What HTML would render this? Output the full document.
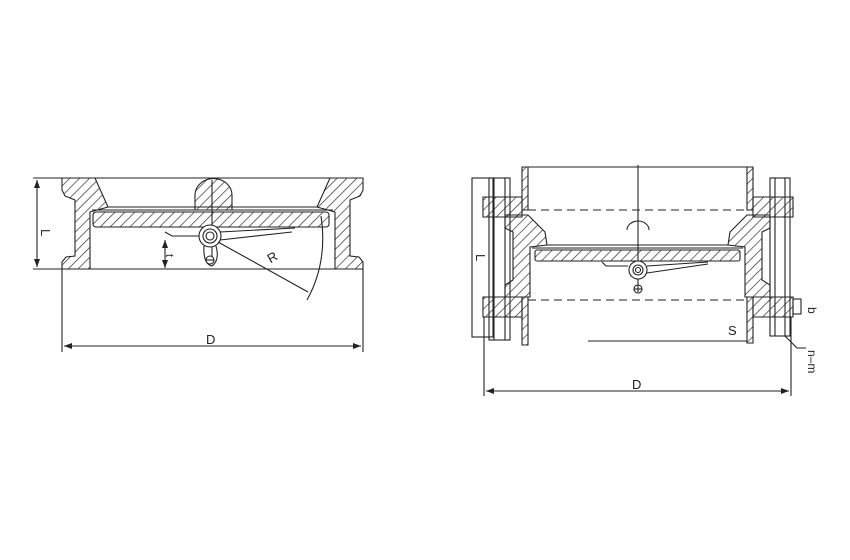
<!DOCTYPE html>
<html><head><meta charset="utf-8"><style>
html,body{margin:0;padding:0;background:#fff;}
svg{display:block;}
text{font-family:"Liberation Sans",sans-serif;fill:#222;}
</style></head><body>
<svg width="850" height="560" viewBox="0 0 850 560" xmlns="http://www.w3.org/2000/svg">
<defs>
<pattern id="h" width="7" height="7" patternUnits="userSpaceOnUse" patternTransform="rotate(45)">
<line x1="0" y1="0" x2="0" y2="7" stroke="#222" stroke-width="1.3"/>
</pattern>
<marker id="a" markerWidth="8" markerHeight="6" refX="8" refY="3" orient="auto" markerUnits="userSpaceOnUse">
<path d="M0,0 L8,3 L0,6 z" fill="#222"/></marker>
<marker id="b" markerWidth="8" markerHeight="6" refX="0" refY="3" orient="auto" markerUnits="userSpaceOnUse">
<path d="M8,0 L0,3 L8,6 z" fill="#222"/></marker>
</defs>
<g stroke="#222" stroke-width="1.1" fill="none">
<!-- LEFT DRAWING -->
<line x1="33" y1="178" x2="62" y2="178"/>
<line x1="33" y1="269" x2="363" y2="269"/>
<line x1="37" y1="180" x2="37" y2="267" marker-start="url(#b)" marker-end="url(#a)"/>
<polygon fill="url(#h)" points="62,178 95,178 108,207 90,212 90,269 62,269 62,262 66,257 75,256 75,200 65,196 62,190"/>
<polygon fill="url(#h)" points="363,178 330,178 317,207 335,212 335,269 363,269 363,262 359,257 350,256 350,200 360,196 363,190"/>
<line x1="95" y1="178" x2="330" y2="178"/>
<line x1="108" y1="207" x2="317" y2="207"/>
<line x1="92" y1="210" x2="333" y2="210"/>
<rect x="93" y="212" width="236" height="15" rx="3" fill="url(#h)"/>
<path d="M195,210 L195,195 A18,16 0 0 1 232,195 L232,210 z" fill="url(#h)"/>
<line x1="212" y1="180" x2="212" y2="262"/>
<path d="M165,232 L172,236 L200,236"/>
<circle cx="210" cy="236" r="11" fill="#fff"/>
<circle cx="210" cy="236" r="7"/>
<circle cx="210" cy="236" r="4"/>
<path d="M204,246 Q203,264 212,266 Q220,260 216,246"/>
<circle cx="210" cy="260" r="4" fill="#fff"/>
<line x1="206" y1="260" x2="214" y2="260"/>
<path d="M220,232 L295,228 M220,240 L292,232"/>
<line x1="218" y1="242" x2="308" y2="292"/>
<path d="M321,216 Q328,262 307,300"/>
<line x1="165" y1="240" x2="165" y2="268" marker-start="url(#b)" marker-end="url(#a)"/>
<line x1="62" y1="269" x2="62" y2="352"/>
<line x1="363" y1="269" x2="363" y2="352"/>
<line x1="64" y1="346" x2="361" y2="346" marker-start="url(#b)" marker-end="url(#a)"/>
</g>
<text x="45" y="225" font-size="13" transform="rotate(90 41 225)">L</text>
<text x="170" y="262" font-size="11" transform="rotate(90 172 256)">t</text>
<text x="268" y="262" font-size="13" transform="rotate(-30 272 258)">R</text>
<text x="206" y="344" font-size="13">D</text>

<g stroke="#222" stroke-width="1.1" fill="none">
<!-- RIGHT DRAWING -->
<rect x="472" y="178" width="21" height="159"/>
<line x1="522" y1="167" x2="753" y2="167"/>
<polygon fill="url(#h)" points="522,167 528,167 528,210 522,210"/>
<polygon fill="url(#h)" points="747,167 753,167 753,210 747,210"/>
<line x1="528" y1="210" x2="747" y2="210" stroke-dasharray="8,5"/>
<polygon fill="url(#h)" points="483,197 522,197 522,217 483,217"/>
<polygon fill="url(#h)" points="753,197 793,197 793,217 753,217"/>
<polygon fill="url(#h)" points="483,297 522,297 522,317 483,317"/>
<polygon fill="url(#h)" points="753,297 793,297 793,317 753,317"/>
<polygon fill="url(#h)" points="505,215 528,215 545,232 547,245 530,247 530,297 505,297 505,285 513,280 513,232 505,228"/>
<polygon fill="url(#h)" points="770,215 747,215 730,232 728,245 745,247 745,297 770,297 770,285 762,280 762,232 770,228"/>
<line x1="547" y1="245" x2="728" y2="245"/>
<line x1="532" y1="248" x2="743" y2="248"/>
<rect x="535" y="250" width="205" height="11" rx="2" fill="url(#h)"/>
<rect x="489" y="178" width="21" height="162" fill="none"/>
<line x1="494" y1="178" x2="494" y2="340"/><line x1="505" y1="178" x2="505" y2="340"/>
<rect x="770" y="178" width="20" height="158" fill="none"/>
<line x1="775" y1="178" x2="775" y2="336"/><line x1="785" y1="178" x2="785" y2="336"/>
<polygon fill="url(#h)" points="522,297 528,297 528,345 522,345"/>
<polygon fill="url(#h)" points="747,297 753,297 753,343 747,343"/>
<line x1="528" y1="300" x2="747" y2="300" stroke-dasharray="8,5"/>
<line x1="588" y1="341" x2="747" y2="341"/>
<line x1="638" y1="165" x2="638" y2="292"/>
<path d="M627,230 A11,9 0 0 1 649,230"/>
<circle cx="638" cy="270" r="9" fill="#fff"/>
<circle cx="638" cy="270" r="5"/>
<circle cx="638" cy="270" r="2.5"/>
<path d="M602,262 L606,266 L628,266 M647,266 L708,262 M647,273 L708,264"/>
<circle cx="638" cy="289" r="4"/>
<line x1="634" y1="289" x2="642" y2="289"/>
<rect x="793" y="299" width="8" height="15"/>
<path d="M785,336 L797,348 L806,348"/>
<line x1="791" y1="317" x2="791" y2="396"/>
<line x1="484" y1="317" x2="484" y2="396"/>
<line x1="486" y1="391" x2="789" y2="391" marker-start="url(#b)" marker-end="url(#a)"/>
</g>
<text x="476" y="262" font-size="13" transform="rotate(90 480 258)">L</text>
<text x="728" y="335" font-size="13">S</text>
<text x="808" y="307" font-size="12" transform="rotate(90 808 307)">b</text>
<text x="806" y="352" font-size="12" transform="rotate(90 808 352)">n–m</text>
<text x="632" y="389" font-size="13">D</text>
</svg>
</body></html>
